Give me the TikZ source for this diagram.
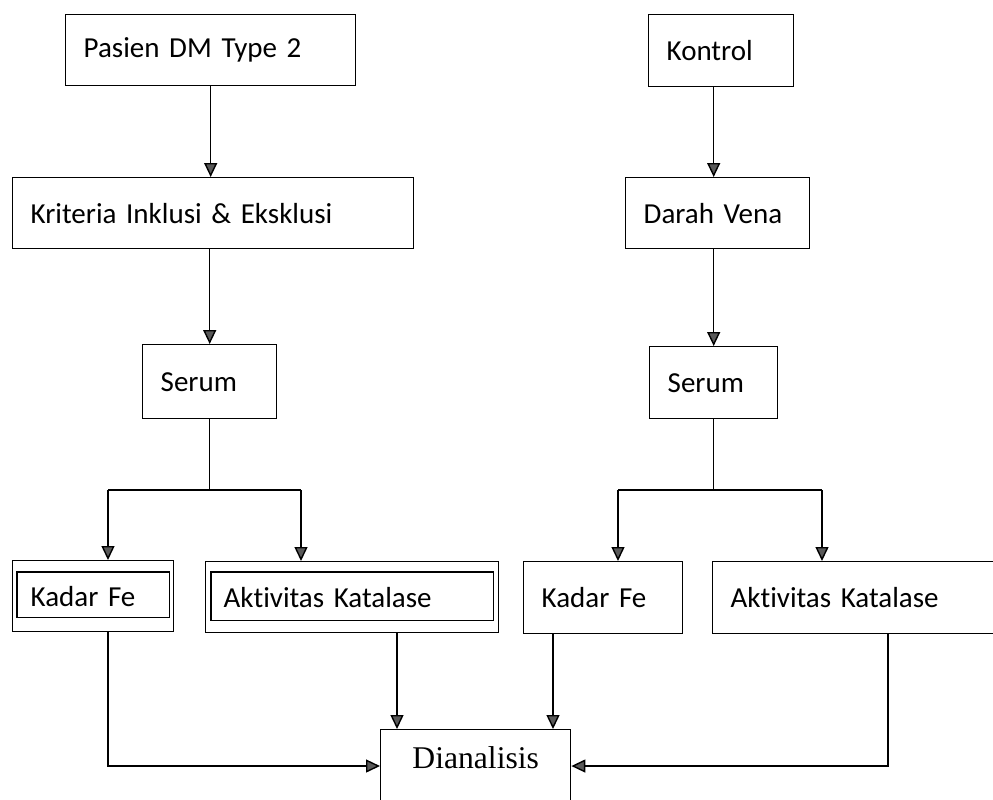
\documentclass[tikz,border=0pt]{standalone}
\usepackage{fontspec}
\setmainfont{Carlito}[Ligatures=NoCommon]
\newfontfamily\seriffont{Liberation Serif}
\usetikzlibrary{arrows.meta}

\begin{document}
\begin{tikzpicture}[
        x                   = 0.02cm,
        y                   = -0.02cm,
        line width          = 0.8pt,
        flowbox/.style      = {draw, black, rectangle, anchor=north west, inner xsep=0.36cm, inner ysep=0pt, align=left, font=\fontsize{16.5}{20}\selectfont},
        flowarrow/.style    = {-{Triangle[length=0.28cm, width=0.26cm, fill=black!65]}},
        %sloped
      ]
        \useasboundingbox (0,0) rectangle (993,799);
        \clip (0,0) rectangle (993,799);

        % left column
        \node[flowbox, text width=5.08cm, minimum height=1.42cm] (pasien) at (65,14) {Pasien DM Type 2};
        \node[flowbox, text width=7.30cm, minimum height=1.42cm] (kriteria) at (12,177) {Kriteria Inklusi \& Eksklusi};
        \node[flowbox, text width=1.96cm, minimum height=1.48cm] (serumL) at (142,344) {Serum};
        \node[flowbox, text width=2.50cm, minimum height=1.42cm] (kadarL) at (12,560) {Kadar Fe};
        \node[flowbox, text width=5.14cm, minimum height=1.42cm] (aktivL) at (205,561) {Aktivitas Katalase};
        \draw ([shift={(5,12)}]kadarL.north west) rectangle ([shift={(-5,-15)}]kadarL.south east);
        \draw ([shift={(6,11)}]aktivL.north west) rectangle ([shift={(-6,-13)}]aktivL.south east);

        % right column
        \node[flowbox, text width=2.18cm, minimum height=1.44cm] (kontrol) at (648,14) {Kontrol};
        \node[flowbox, text width=2.96cm, minimum height=1.42cm] (darah) at (625,177) {Darah Vena};
        \node[flowbox, text width=1.84cm, minimum height=1.44cm] (serumR) at (649,346) {Serum};
        \node[flowbox, text width=2.46cm, minimum height=1.44cm] (kadarR) at (523,561) {Kadar Fe};
        \node[flowbox, text width=5.28cm, minimum height=1.44cm] (aktivR) at (712,561) {Aktivitas Katalase};

        \node[draw, black, anchor=north west, minimum width=3.8cm, inner ysep=0.34cm, text height=0.44cm, text depth=1.3cm,
              font=\seriffont\fontsize{18}{22}\selectfont] (dianalisis) at (380,729) {Dianalisis};

        \coordinate (brL1) at (108,490);
        \coordinate (brL2) at (301,490);
        \coordinate (brR1) at (618,490);
        \coordinate (brR2) at (822,490);
        \coordinate (inY) at (0,766);
        \coordinate (dnL) at (397,0);
        \coordinate (dnR) at (553,0);
        \coordinate (outR) at (888,0);

        \draw[flowarrow] (pasien.south) -- (pasien.south |- kriteria.north);
        \draw[flowarrow] (serumL.north |- kriteria.south) -- (serumL.north);
        \draw (serumL.south) -- (serumL.south |- brL1);
        \draw (brL1) -- (brL2);
        \draw[flowarrow] (brL1) -- (brL1 |- kadarL.north);
        \draw[flowarrow] (brL2) -- (brL2 |- aktivL.north);

        \draw[flowarrow] (serumR.north |- kontrol.south) -- (serumR.north |- darah.north);
        \draw[flowarrow] (serumR.north |- darah.south) -- (serumR.north);
        \draw (serumR.south) -- (serumR.south |- brR1);
        \draw (brR1) -- (brR2);
        \draw[flowarrow] (brR1) -- (brR1 |- kadarR.north);
        \draw[flowarrow] (brR2) -- (brR2 |- aktivR.north);

        \draw[flowarrow] (brL1 |- kadarL.south) |- (dianalisis.west |- inY);
        \draw[flowarrow] (dnL |- aktivL.south) -- (dnL |- dianalisis.north);
        \draw[flowarrow] (dnR |- kadarR.south) -- (dnR |- dianalisis.north);
        \draw[flowarrow] (outR |- aktivR.south) |- (dianalisis.east |- inY);
    \end{tikzpicture}
\end{document}
